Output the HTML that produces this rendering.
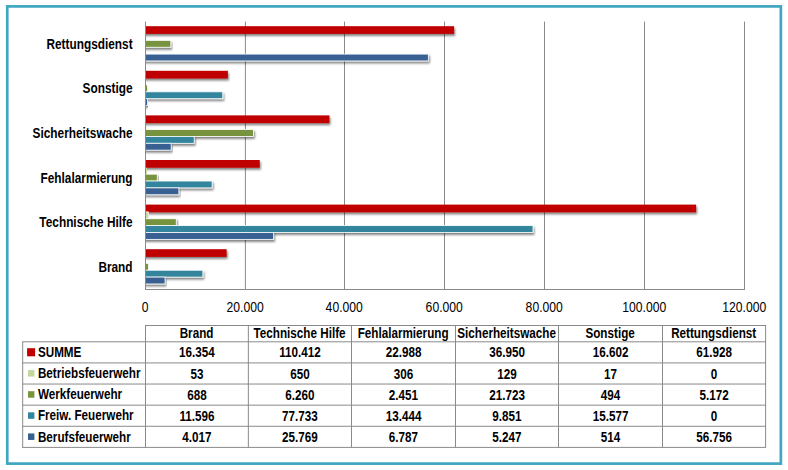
<!DOCTYPE html>
<html><head><meta charset="utf-8"><title>Chart</title>
<style>
html,body{margin:0;padding:0;background:#fff;}
body{width:788px;height:470px;overflow:hidden;}
svg{display:block;}
text{font-family:"Liberation Sans",sans-serif;font-size:14.27px;fill:#000;}
.b{font-weight:bold;}
</style></head><body>
<svg width="788" height="470" viewBox="0 0 788 470">
<defs>
<filter id="sh" x="-5%" y="-60%" width="110%" height="260%" filterUnits="objectBoundingBox">
<feGaussianBlur in="SourceAlpha" stdDeviation="1.25"/>
<feOffset dx="1.3" dy="2.3" result="o"/>
<feFlood flood-color="#000" flood-opacity="0.5"/>
<feComposite in2="o" operator="in"/>
<feMerge><feMergeNode/><feMergeNode in="SourceGraphic"/></feMerge>
</filter>
</defs>
<rect x="0" y="0" width="788" height="470" fill="#fff"/>
<rect x="7.25" y="6.4" width="773.6" height="457.2" fill="#fff" stroke="#40A6C1" stroke-width="2.7"/>

<g stroke="#8a8a8a" stroke-width="1" fill="none">
<line x1="245.40" y1="21.60" x2="245.40" y2="289.50"/>
<line x1="344.50" y1="21.60" x2="344.50" y2="289.50"/>
<line x1="444.50" y1="21.60" x2="444.50" y2="289.50"/>
<line x1="544.50" y1="21.60" x2="544.50" y2="289.50"/>
<line x1="644.50" y1="21.60" x2="644.50" y2="289.50"/>
<line x1="744.50" y1="21.60" x2="744.50" y2="289.50"/>
</g>
<clipPath id="cp"><rect x="145.50" y="0" width="700" height="300"/></clipPath>
<g clip-path="url(#cp)">
<rect x="139.50" y="26.20" width="314.61" height="7.70" fill="#C00000" filter="url(#sh)"/>
<rect x="139.50" y="40.37" width="31.32" height="6.86" fill="#77933C" stroke="#fff" stroke-width="0.8" filter="url(#sh)"/>
<rect x="139.50" y="54.09" width="288.80" height="6.86" fill="#376092" stroke="#fff" stroke-width="0.8" filter="url(#sh)"/>
<rect x="139.50" y="70.80" width="88.37" height="7.70" fill="#C00000" filter="url(#sh)"/>
<rect x="145.50" y="78.61" width="0.08" height="5.86" fill="#C3D69B"/>
<rect x="139.50" y="84.97" width="7.97" height="6.86" fill="#77933C" stroke="#fff" stroke-width="0.8" filter="url(#sh)"/>
<rect x="139.50" y="91.83" width="83.25" height="6.86" fill="#31859C" stroke="#fff" stroke-width="0.8" filter="url(#sh)"/>
<rect x="139.50" y="98.69" width="8.07" height="6.86" fill="#376092" stroke="#fff" stroke-width="0.8" filter="url(#sh)"/>
<rect x="139.50" y="115.40" width="189.94" height="7.70" fill="#C00000" filter="url(#sh)"/>
<rect x="145.50" y="123.21" width="0.64" height="5.86" fill="#C3D69B"/>
<rect x="139.50" y="129.57" width="113.93" height="6.86" fill="#77933C" stroke="#fff" stroke-width="0.8" filter="url(#sh)"/>
<rect x="139.50" y="136.43" width="54.67" height="6.86" fill="#31859C" stroke="#fff" stroke-width="0.8" filter="url(#sh)"/>
<rect x="139.50" y="143.29" width="31.69" height="6.86" fill="#376092" stroke="#fff" stroke-width="0.8" filter="url(#sh)"/>
<rect x="139.50" y="160.00" width="120.24" height="7.70" fill="#C00000" filter="url(#sh)"/>
<rect x="145.50" y="167.81" width="1.53" height="5.86" fill="#C3D69B"/>
<rect x="139.50" y="174.17" width="17.73" height="6.86" fill="#77933C" stroke="#fff" stroke-width="0.8" filter="url(#sh)"/>
<rect x="139.50" y="181.03" width="72.61" height="6.86" fill="#31859C" stroke="#fff" stroke-width="0.8" filter="url(#sh)"/>
<rect x="139.50" y="187.89" width="39.38" height="6.86" fill="#376092" stroke="#fff" stroke-width="0.8" filter="url(#sh)"/>
<rect x="139.50" y="204.60" width="556.62" height="7.70" fill="#C00000" filter="url(#sh)"/>
<rect x="139.50" y="211.91" width="8.74" height="6.86" fill="#C3D69B" stroke="#fff" stroke-width="0.8" filter="url(#sh)"/>
<rect x="139.50" y="218.77" width="36.75" height="6.86" fill="#77933C" stroke="#fff" stroke-width="0.8" filter="url(#sh)"/>
<rect x="139.50" y="225.63" width="393.50" height="6.86" fill="#31859C" stroke="#fff" stroke-width="0.8" filter="url(#sh)"/>
<rect x="139.50" y="232.49" width="134.13" height="6.86" fill="#376092" stroke="#fff" stroke-width="0.8" filter="url(#sh)"/>
<rect x="139.50" y="249.20" width="87.13" height="7.70" fill="#C00000" filter="url(#sh)"/>
<rect x="145.50" y="257.01" width="0.26" height="5.86" fill="#C3D69B"/>
<rect x="139.50" y="263.37" width="8.93" height="6.86" fill="#77933C" stroke="#fff" stroke-width="0.8" filter="url(#sh)"/>
<rect x="139.50" y="270.23" width="63.38" height="6.86" fill="#31859C" stroke="#fff" stroke-width="0.8" filter="url(#sh)"/>
<rect x="139.50" y="277.09" width="25.55" height="6.86" fill="#376092" stroke="#fff" stroke-width="0.8" filter="url(#sh)"/>
</g>
<g stroke="#8a8a8a" stroke-width="1" fill="none">
<line x1="145.50" y1="21.60" x2="145.50" y2="290.00"/>
<line x1="145.00" y1="289.50" x2="745.00" y2="289.50"/>
</g>
<text class="b" transform="translate(132.60,48.80) scale(0.83,1)" text-anchor="end">Rettungsdienst</text>
<text class="b" transform="translate(132.60,93.40) scale(0.83,1)" text-anchor="end">Sonstige</text>
<text class="b" transform="translate(132.60,138.00) scale(0.83,1)" text-anchor="end">Sicherheitswache</text>
<text class="b" transform="translate(132.60,182.60) scale(0.83,1)" text-anchor="end">Fehlalarmierung</text>
<text class="b" transform="translate(132.60,227.20) scale(0.83,1)" text-anchor="end">Technische Hilfe</text>
<text class="b" transform="translate(132.60,271.80) scale(0.83,1)" text-anchor="end">Brand</text>
<text style="font-size:15.2px" transform="translate(145.20,312.00) scale(0.8,1)" text-anchor="middle">0</text>
<text style="font-size:15.2px" transform="translate(245.10,312.00) scale(0.8,1)" text-anchor="middle">20.000</text>
<text style="font-size:15.2px" transform="translate(344.20,312.00) scale(0.8,1)" text-anchor="middle">40.000</text>
<text style="font-size:15.2px" transform="translate(444.20,312.00) scale(0.8,1)" text-anchor="middle">60.000</text>
<text style="font-size:15.2px" transform="translate(544.20,312.00) scale(0.8,1)" text-anchor="middle">80.000</text>
<text style="font-size:15.2px" transform="translate(644.20,312.00) scale(0.8,1)" text-anchor="middle">100.000</text>
<text style="font-size:15.2px" transform="translate(744.20,312.00) scale(0.8,1)" text-anchor="middle">120.000</text>
<g stroke="#8a8a8a" stroke-width="1" fill="none">
<line x1="145.00" y1="325.50" x2="766.10" y2="325.50"/>
<line x1="22.20" y1="341.80" x2="766.10" y2="341.80"/>
<line x1="22.20" y1="362.92" x2="766.10" y2="362.92"/>
<line x1="22.20" y1="384.04" x2="766.10" y2="384.04"/>
<line x1="22.20" y1="405.16" x2="766.10" y2="405.16"/>
<line x1="22.20" y1="426.28" x2="766.10" y2="426.28"/>
<line x1="22.20" y1="447.40" x2="766.10" y2="447.40"/>
<line x1="22.70" y1="341.80" x2="22.70" y2="447.40"/>
<line x1="145.50" y1="325.50" x2="145.50" y2="447.40"/>
<line x1="248.35" y1="325.50" x2="248.35" y2="447.40"/>
<line x1="351.50" y1="325.50" x2="351.50" y2="447.40"/>
<line x1="455.50" y1="325.50" x2="455.50" y2="447.40"/>
<line x1="558.50" y1="325.50" x2="558.50" y2="447.40"/>
<line x1="662.50" y1="325.50" x2="662.50" y2="447.40"/>
<line x1="765.60" y1="325.50" x2="765.60" y2="447.40"/>
</g>
<text class="b" transform="translate(196.53,338.15) scale(0.82,1)" text-anchor="middle">Brand</text>
<text class="b" transform="translate(299.53,338.15) scale(0.82,1)" text-anchor="middle">Technische Hilfe</text>
<text class="b" transform="translate(403.10,338.15) scale(0.82,1)" text-anchor="middle">Fehlalarmierung</text>
<text class="b" transform="translate(506.60,338.15) scale(0.82,1)" text-anchor="middle">Sicherheitswache</text>
<text class="b" transform="translate(610.10,338.15) scale(0.82,1)" text-anchor="middle">Sonstige</text>
<text class="b" transform="translate(713.65,338.15) scale(0.82,1)" text-anchor="middle">Rettungsdienst</text>
<rect x="27.1" y="348.21" width="8" height="8.1" fill="#C00000"/>
<text class="b" transform="translate(37.90,357.06) scale(0.82,1)" text-anchor="start">SUMME</text>
<text class="b" transform="translate(196.93,357.46) scale(0.82,1)" text-anchor="middle">16.354</text>
<text class="b" transform="translate(299.93,357.46) scale(0.82,1)" text-anchor="middle">110.412</text>
<text class="b" transform="translate(403.50,357.46) scale(0.82,1)" text-anchor="middle">22.988</text>
<text class="b" transform="translate(507.00,357.46) scale(0.82,1)" text-anchor="middle">36.950</text>
<text class="b" transform="translate(610.50,357.46) scale(0.82,1)" text-anchor="middle">16.602</text>
<text class="b" transform="translate(714.05,357.46) scale(0.82,1)" text-anchor="middle">61.928</text>
<rect x="28" y="370.08" width="6.4" height="6.5" fill="#C3D69B"/>
<text class="b" transform="translate(37.90,378.18) scale(0.82,1)" text-anchor="start">Betriebsfeuerwehr</text>
<text class="b" transform="translate(196.93,378.58) scale(0.82,1)" text-anchor="middle">53</text>
<text class="b" transform="translate(299.93,378.58) scale(0.82,1)" text-anchor="middle">650</text>
<text class="b" transform="translate(403.50,378.58) scale(0.82,1)" text-anchor="middle">306</text>
<text class="b" transform="translate(507.00,378.58) scale(0.82,1)" text-anchor="middle">129</text>
<text class="b" transform="translate(610.50,378.58) scale(0.82,1)" text-anchor="middle">17</text>
<text class="b" transform="translate(714.05,378.58) scale(0.82,1)" text-anchor="middle">0</text>
<rect x="28" y="391.20" width="6.4" height="6.5" fill="#77933C"/>
<text class="b" transform="translate(37.90,399.30) scale(0.82,1)" text-anchor="start">Werkfeuerwehr</text>
<text class="b" transform="translate(196.93,399.70) scale(0.82,1)" text-anchor="middle">688</text>
<text class="b" transform="translate(299.93,399.70) scale(0.82,1)" text-anchor="middle">6.260</text>
<text class="b" transform="translate(403.50,399.70) scale(0.82,1)" text-anchor="middle">2.451</text>
<text class="b" transform="translate(507.00,399.70) scale(0.82,1)" text-anchor="middle">21.723</text>
<text class="b" transform="translate(610.50,399.70) scale(0.82,1)" text-anchor="middle">494</text>
<text class="b" transform="translate(714.05,399.70) scale(0.82,1)" text-anchor="middle">5.172</text>
<rect x="28" y="412.32" width="6.4" height="6.5" fill="#31859C"/>
<text class="b" transform="translate(37.90,420.42) scale(0.82,1)" text-anchor="start">Freiw. Feuerwehr</text>
<text class="b" transform="translate(196.93,420.82) scale(0.82,1)" text-anchor="middle">11.596</text>
<text class="b" transform="translate(299.93,420.82) scale(0.82,1)" text-anchor="middle">77.733</text>
<text class="b" transform="translate(403.50,420.82) scale(0.82,1)" text-anchor="middle">13.444</text>
<text class="b" transform="translate(507.00,420.82) scale(0.82,1)" text-anchor="middle">9.851</text>
<text class="b" transform="translate(610.50,420.82) scale(0.82,1)" text-anchor="middle">15.577</text>
<text class="b" transform="translate(714.05,420.82) scale(0.82,1)" text-anchor="middle">0</text>
<rect x="28" y="433.44" width="6.4" height="6.5" fill="#376092"/>
<text class="b" transform="translate(37.90,441.54) scale(0.82,1)" text-anchor="start">Berufsfeuerwehr</text>
<text class="b" transform="translate(196.93,441.94) scale(0.82,1)" text-anchor="middle">4.017</text>
<text class="b" transform="translate(299.93,441.94) scale(0.82,1)" text-anchor="middle">25.769</text>
<text class="b" transform="translate(403.50,441.94) scale(0.82,1)" text-anchor="middle">6.787</text>
<text class="b" transform="translate(507.00,441.94) scale(0.82,1)" text-anchor="middle">5.247</text>
<text class="b" transform="translate(610.50,441.94) scale(0.82,1)" text-anchor="middle">514</text>
<text class="b" transform="translate(714.05,441.94) scale(0.82,1)" text-anchor="middle">56.756</text>
</svg></body></html>
